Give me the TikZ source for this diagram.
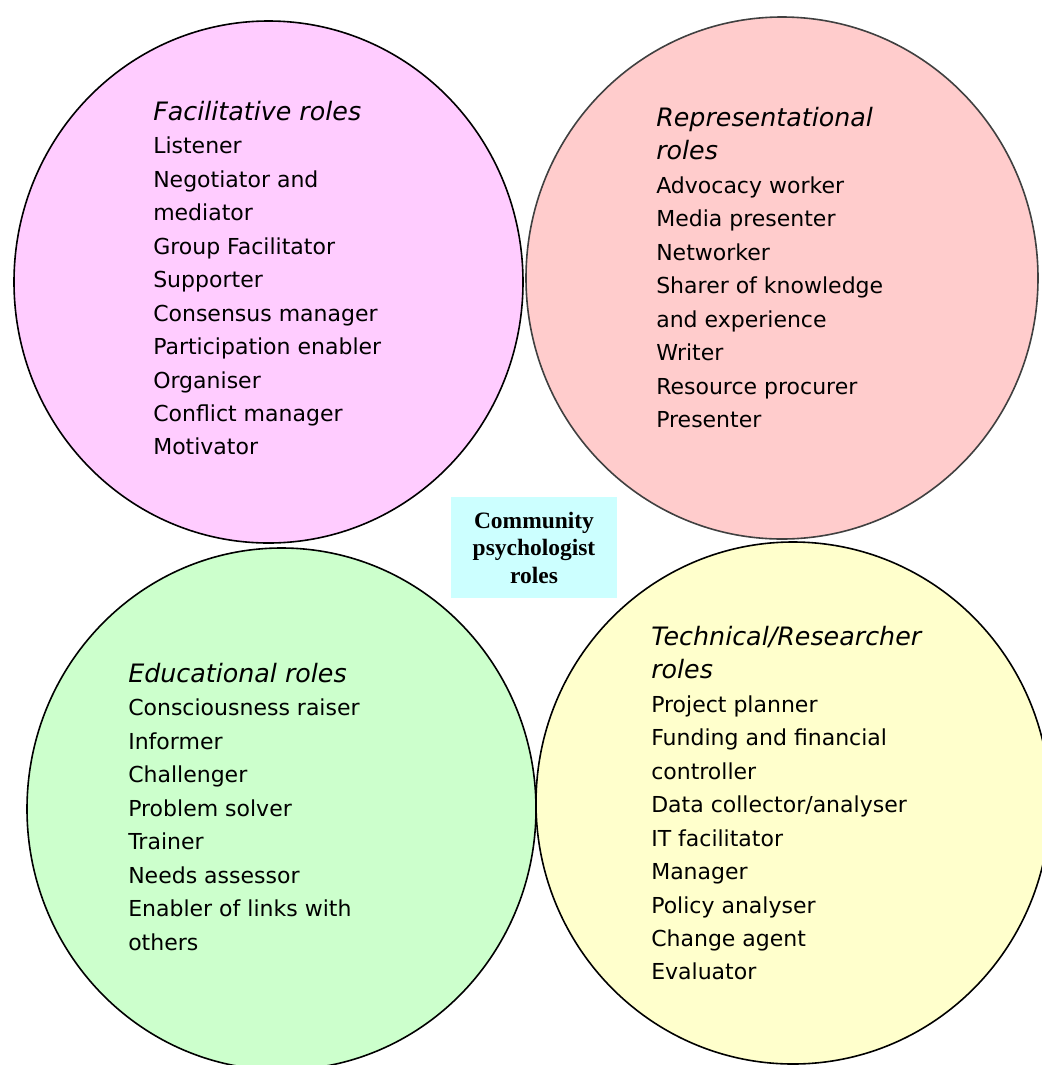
\documentclass[tikz,border=0pt]{standalone}
\usepackage{fontspec}
\setmainfont{DejaVu Sans}
\newfontfamily\titlefont{Liberation Serif}
\usetikzlibrary{positioning}

\definecolor{facpink}{HTML}{FFCCFF}
\definecolor{reppink}{HTML}{FFCCCC}
\definecolor{edugreen}{HTML}{CCFFCC}
\definecolor{techyellow}{HTML}{FFFFCC}
\definecolor{titlecyan}{HTML}{CCFFFF}
\definecolor{repedge}{HTML}{404040}

\newcommand{\rolehead}[1]{{\fontsize{19}{25.1}\selectfont\itshape #1}}

\tikzset{
    rolelist/.style={align=left, inner sep=0pt, anchor=north west,
        font=\fontsize{16.5}{25.1}\selectfont},
    titlebox/.style={fill=titlecyan, inner sep=0pt, align=center,
        minimum width=124.5pt, minimum height=75.75pt,
        font=\titlefont\bfseries\fontsize{17.6}{20.6}\selectfont}
}

\begin{document}
\begin{tikzpicture}[x=0.75pt, y=-0.75pt]
        \useasboundingbox (0,0) rectangle (1042,1065);
        \clip (0,0) rectangle (1042,1065);

        % the four role circles
        \foreach \cx/\cy/\rx/\ry/\col/\edge in {268.5/282/254.5/261/facpink/black,
                782/278/256/261/reppink/repedge,
                281.5/809/254.5/261/edugreen/black,
                793/803/257/261/techyellow/black}{
            \draw[fill=\col, draw=\edge, line width=1.2pt] (\cx,\cy) ellipse [x radius=\rx, y radius=\ry];
        }

        \node[rolelist] (facilitative) at (153,96.6) {\strut\rolehead{Facilitative roles}\\
            Listener\\ Negotiator and\\ mediator\\ Group Facilitator\\ Supporter\\
            Consensus manager\\ Participation enabler\\ Organiser\\ Conflict manager\\ Motivator};

        \node[rolelist] (representational) at (656,102.6) {\strut\rolehead{Representational}\\ \rolehead{roles}\\
            Advocacy worker\\ Media presenter\\ Networker\\ Sharer of knowledge\\
            and experience\\ Writer\\ Resource procurer\\ Presenter};

        \node[rolelist] (educational) at (128,658.6) {\strut\rolehead{Educational roles}\\
            Consciousness raiser\\ Informer\\ Challenger\\ Problem solver\\ Trainer\\
            Needs assessor\\ Enabler of links with\\ others};

        \node[rolelist] (technical) at (651,621.6) {\strut\rolehead{Technical/Researcher}\\ \rolehead{roles}\\
            Project planner\\ Funding and financial\\ controller\\ Data collector/analyser\\
            IT facilitator\\ Manager\\ Policy analyser\\ Change agent\\ Evaluator};

        \node[titlebox] (title) at (534,547.5) {Community\\ psychologist\\ roles};
    \end{tikzpicture}
\end{document}
